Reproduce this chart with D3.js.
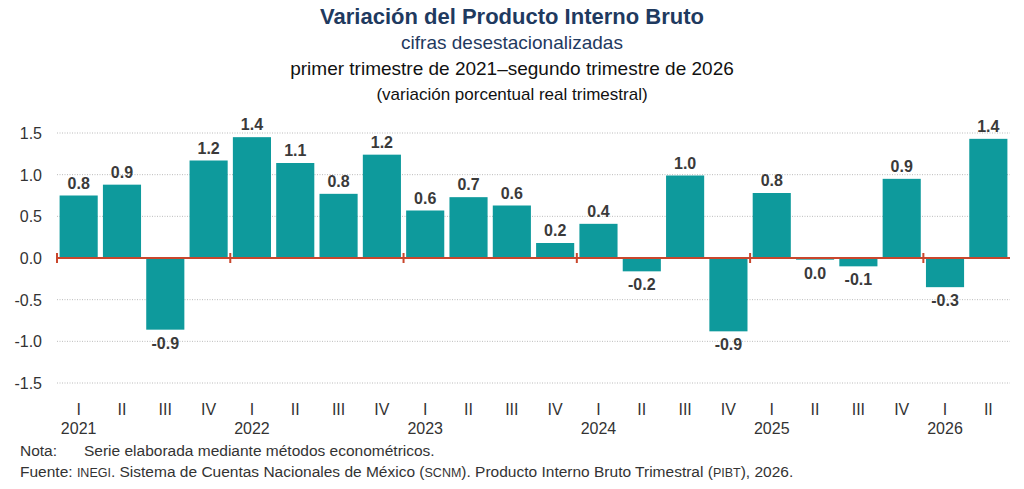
<!DOCTYPE html>
<html><head><meta charset="utf-8">
<script src="https://cdn.jsdelivr.net/npm/d3@7"></script>
<style>body{margin:0;background:#fff}text{font-family:Arial,"Liberation Sans",sans-serif}</style>
</head><body>
<svg id="c" width="1024" height="489"></svg>
<script>
const years = ["2021","2022","2023","2024","2025","2026"];
const quarters = ["I","II","III","IV"];
const values = [0.75,0.88,-0.86,1.17,1.45,1.14,0.77,1.24,0.57,0.73,0.63,0.18,0.41,-0.16,0.99,-0.88,0.78,-0.02,-0.10,0.95,-0.35,1.43];
const labels = ["0.8","0.9","-0.9","1.2","1.4","1.1","0.8","1.2","0.6","0.7","0.6","0.2","0.4","-0.2","1.0","-0.9","0.8","0.0","-0.1","0.9","-0.3","1.4"];
const yTicks = [1.5,1.0,0.5,0.0,-0.5,-1.0,-1.5];

const svg = d3.select("#c");
const L = 57, R = 1010, T = 133, B = 383;
const idx = values.map((d,i)=>i);
const x = d3.scaleBand().domain(idx).range([L, R]).paddingInner(0.12).paddingOuter(0.06);
const y = d3.scaleLinear().domain([-1.5,1.5]).range([B, T]);

// titles
const tt = [
  {t:"Variación del Producto Interno Bruto", y:24, s:22, w:"bold", c:"#1f3a5f"},
  {t:"cifras desestacionalizadas", y:49, s:19, w:"normal", c:"#1f3a5f"},
  {t:"primer trimestre de 2021–segundo trimestre de 2026", y:75, s:19, w:"normal", c:"#111"},
  {t:"(variación porcentual real trimestral)", y:100, s:17, w:"normal", c:"#111"}];
svg.selectAll("text.t").data(tt).join("text").attr("x",512).attr("y",d=>d.y)
  .attr("text-anchor","middle").attr("font-size",d=>d.s).attr("font-weight",d=>d.w)
  .attr("fill",d=>d.c).text(d=>d.t);

// grid
svg.append("g").selectAll("line").data(yTicks.filter(d=>d!==0)).join("line")
  .attr("x1",L).attr("x2",R).attr("y1",d=>y(d)).attr("y2",d=>y(d))
  .attr("stroke","#bbb").attr("stroke-dasharray","1,1.5");
svg.append("g").selectAll("text").data(yTicks).join("text")
  .attr("x",42).attr("y",d=>y(d)+6).attr("text-anchor","end").attr("font-size",16)
  .attr("fill","#333").text(d=>d.toFixed(1));

// bars
svg.append("g").selectAll("rect").data(values).join("rect")
  .attr("x",(d,i)=>x(i)).attr("width",x.bandwidth())
  .attr("y",d=>y(Math.max(0,d))).attr("height",d=>Math.abs(y(d)-y(0)))
  .attr("fill","#0e9a9c");

svg.append("g").selectAll("text").data(values).join("text")
  .attr("x",(d,i)=>x(i)+x.bandwidth()/2)
  .attr("y",d=>d>=0 ? y(d)-7 : y(d)+19)
  .attr("text-anchor","middle").attr("font-size",16).attr("font-weight","bold")
  .attr("fill","#3a3a3a").text((d,i)=>labels[i]);

// zero line and year ticks
const step = x.step();
svg.append("line").attr("x1",L).attr("x2",R).attr("y1",y(0)).attr("y2",y(0))
  .attr("stroke","#c9462c").attr("stroke-width",2);
const bounds = d3.range(0, values.length+1, 4).map(i => i < values.length ? x(i) - (step - x.bandwidth())/2 : R);
svg.append("g").selectAll("line").data(bounds.slice(0,6)).join("line")
  .attr("x1",d=>d).attr("x2",d=>d).attr("y1",y(0)-5).attr("y2",y(0)+5)
  .attr("stroke","#c9462c").attr("stroke-width",2);

// x labels
svg.append("g").selectAll("text").data(idx).join("text")
  .attr("x",i=>x(i)+x.bandwidth()/2).attr("y",415).attr("text-anchor","middle")
  .attr("font-size",16).attr("fill","#333").text(i=>quarters[i%4]);
svg.append("g").selectAll("text").data(years).join("text")
  .attr("x",(d,k)=>x(k*4)+x.bandwidth()/2).attr("y",434).attr("text-anchor","middle")
  .attr("font-size",16).attr("fill","#333").text(d=>d);

// notes
const n1 = svg.append("text").attr("x",20).attr("y",456).attr("font-size",15.5).attr("fill","#333");
n1.append("tspan").text("Nota:");
n1.append("tspan").attr("x",84).text("Serie elaborada mediante métodos econométricos.");
const n2 = svg.append("text").attr("x",20).attr("y",477).attr("font-size",15.5).attr("fill","#333");
[["Fuente: ",15.5],["INEGI",12.5],[". Sistema de Cuentas Nacionales de México (",15.5],["SCNM",12.5],
 ["). Producto Interno Bruto Trimestral (",15.5],["PIBT",12.5],["), 2026.",15.5]]
 .forEach(([t,s])=>n2.append("tspan").attr("font-size",s).text(t));
</script>
</body></html>
